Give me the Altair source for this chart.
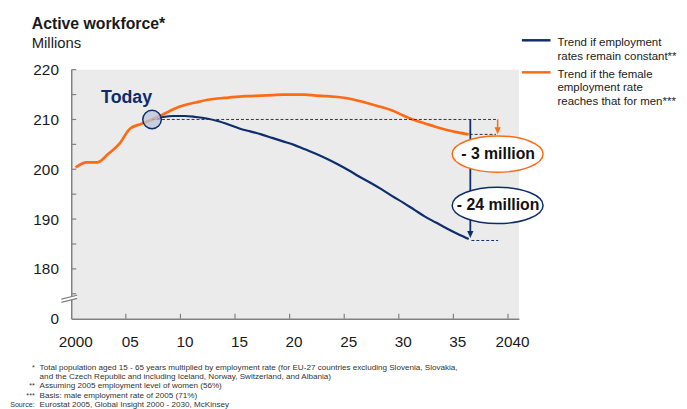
import altair as alt
import pandas as pd

FONT = "Liberation Sans"
NAVY = "#0d2d6b"
ORANGE_C = "#ff6a13"
GRAY = "#808080"
TXT = "#1a1a1a"

# ---------------- data ----------------
YEARS_FEMALE = list(range(2000, 2037))
FEMALE = [200.4, 201.4, 201.4, 203.1, 205.1, 208.2, 209.1, 210.0, 211.0, 212.1,
          212.9, 213.4, 213.9, 214.2, 214.4, 214.6, 214.7, 214.8, 214.9, 215.0,
          215.0, 215.0, 214.8, 214.7, 214.5, 214.2, 213.7, 213.1, 212.5, 211.8,
          210.8, 209.9, 209.2, 208.5, 207.9, 207.4, 207.0]
YEARS_CONST = list(range(2007, 2037))
CONST = [210.0, 210.5, 210.7, 210.7, 210.5, 210.2, 209.7, 209.0, 208.2, 207.6,
         207.0, 206.3, 205.6, 204.9, 204.0, 203.1, 202.1, 201.0, 199.8, 198.5,
         197.3, 196.0, 194.6, 193.3, 191.9, 190.5, 189.3, 188.1, 187.0, 186.0]
SERIES = ["Trend if employment rates remain constant**",
          "Trend if the female employment rate reaches that for men***"]
LEGEND_CONST = ["Trend if employment", "rates remain constant**"]
LEGEND_FEMALE = ["Trend if the female", "employment rate", "reaches that for men***"]
Y_LABELED = [170, 180, 190, 200, 210, 220]
Y_TICKS = [175, 180, 185, 190, 195, 200, 205, 210, 215, 220]
X_TICKS = [2000, 2005, 2010, 2015, 2020, 2025, 2030, 2035, 2040]
TODAY_YEAR = 2007
TODAY_VALUE = 210.0
TODAY_LABEL = "Today"
GAP_LABELS = ["- 3 million", "- 24 million"]
TITLE = "Active workforce*"
UNIT = "Millions"
FOOT_MARKS = ["*", "", "**", "***", "Source:"]
FOOT_TEXT = [
    "Total population aged 15 - 65 years multiplied by employment rate (for EU-27 countries excluding Slovenia, Slovakia,",
    "and the Czech Republic and including Iceland, Norway, Switzerland, and Albania)",
    "Assuming 2005 employment level of women (56%)",
    "Basis: male employment rate of 2005 (71%)",
    "Eurostat 2005, Global Insight 2000 - 2030, McKinsey",
]

# ---------------- layout constants ----------------
W, H = 453, 252
OFF = 0.4           # points sit inside each year
ARROW_X = 2039.05   # position of the orange arrow / bubbles
BREAK_AT = 174.0

df = pd.concat([
    pd.DataFrame({"year": YEARS_CONST, "v": CONST, "series": SERIES[0]}),
    pd.DataFrame({"year": YEARS_FEMALE, "v": FEMALE, "series": SERIES[1]}),
])
df["t"] = df["year"] + OFF

xs = alt.Scale(domain=[2000, 2041], nice=False, zero=False)
ys = alt.Scale(domain=[170, 220], nice=False, zero=False)
one = pd.DataFrame({"k": [0]})

x_axis = alt.Axis(values=X_TICKS, title=None, grid=False, ticks=False, format="d",
                  domainColor=GRAY, domainWidth=1.5,
                  labelExpr="datum.value == 2000 || datum.value == 2040 ? datum.label : substring(datum.label, 2, 4)",
                  labelPadding=16, labelOffset=4, labelFontSize=15.5, labelFont=FONT,
                  labelColor=TXT, labelFlush=False, labelOverlap=False)
y_axis = alt.Axis(values=Y_LABELED, title=None, grid=False, ticks=False,
                  domainColor=GRAY, domainWidth=1.5,
                  labelExpr="datum.value == 170 ? '0' : datum.label",
                  labelPadding=13, labelFontSize=15.5, labelFont=FONT, labelColor=TXT,
                  labelOverlap=False)


def X(field):
    return alt.X(field, type="quantitative", scale=xs, axis=x_axis)


def Y(field):
    return alt.Y(field, type="quantitative", scale=ys, axis=y_axis)


lines = alt.Chart(df).mark_line(interpolate="monotone").encode(
    x=X("t"),
    y=Y("v"),
    color=alt.Color("series:N", scale=alt.Scale(domain=SERIES, range=[NAVY, ORANGE_C]), legend=None),
    strokeWidth=alt.StrokeWidth("series:N", scale=alt.Scale(domain=SERIES, range=[2.2, 2.7]), legend=None),
    order=alt.Order("t:Q"),
)

ytick = alt.Chart(pd.DataFrame({"v": Y_TICKS})).mark_rule(color=GRAY, strokeWidth=1.2).encode(
    y=Y("v"), x=alt.value(0), x2=alt.value(5))
xtick = alt.Chart(pd.DataFrame({"t": X_TICKS[1:]})).mark_rule(color=GRAY, strokeWidth=1.2).encode(
    x=X("t"), y=alt.value(H), y2=alt.value(H - 5))

brk_fill = alt.Chart(pd.DataFrame({"v": [BREAK_AT]})).mark_point(
    shape="M -1 0.05 L 1 -0.45 L 1 -0.05 L -1 0.45 Z", filled=True, fill="white",
    opacity=1, size=256, strokeWidth=0).encode(y=Y("v"), x=alt.value(-2))
brk_line = alt.Chart(pd.DataFrame({"v": [BREAK_AT]})).mark_point(
    shape="M -1 0.05 L 1 -0.45 M -1 0.45 L 1 -0.05", filled=False, stroke=GRAY,
    opacity=1, size=256, strokeWidth=1.2).encode(y=Y("v"), x=alt.value(-2))

# dashed reference lines
base_dash = alt.Chart(pd.DataFrame({"x": [TODAY_YEAR + OFF], "x2": [ARROW_X + 0.05], "v": [TODAY_VALUE]})).mark_rule(
    color="#333333", strokeWidth=1, strokeDash=[3, 2]).encode(x=X("x"), x2="x2", y=Y("v"))
fem_dash = alt.Chart(pd.DataFrame({"x": [YEARS_FEMALE[-1] + OFF + 0.1], "x2": [ARROW_X - 0.15], "v": [FEMALE[-1]]})).mark_rule(
    color="#333333", strokeWidth=1, strokeDash=[3, 2]).encode(x=X("x"), x2="x2", y=Y("v"))
con_dash = alt.Chart(pd.DataFrame({"x": [YEARS_CONST[-1] + OFF + 0.25], "x2": [ARROW_X + 0.05], "v": [CONST[-1] - 0.3]})).mark_rule(
    color=NAVY, strokeWidth=1, strokeDash=[3, 2]).encode(x=X("x"), x2="x2", y=Y("v"))

# arrows
HEAD = "M 0 0 L -0.45 -1 L 0.45 -1 Z"
blue_x = YEARS_CONST[-1] + OFF + 0.15
blue_arrow = alt.Chart(pd.DataFrame({"x": [blue_x], "v": [TODAY_VALUE], "v2": [CONST[-1] + 1.0]})).mark_rule(
    color=NAVY, strokeWidth=1.8).encode(x=X("x"), y=Y("v"), y2="v2")
blue_head = alt.Chart(pd.DataFrame({"x": [blue_x], "v": [CONST[-1] + 0.2]})).mark_point(
    shape=HEAD, filled=True, fill=NAVY, opacity=1, size=196, strokeWidth=0).encode(x=X("x"), y=Y("v"))
or_arrow = alt.Chart(pd.DataFrame({"x": [ARROW_X], "v": [TODAY_VALUE], "v2": [FEMALE[-1] + 1.0]})).mark_rule(
    color=ORANGE_C, strokeWidth=1.5).encode(x=X("x"), y=Y("v"), y2="v2")
or_head = alt.Chart(pd.DataFrame({"x": [ARROW_X], "v": [FEMALE[-1] + 0.05]})).mark_point(
    shape=HEAD, filled=True, fill=ORANGE_C, opacity=1, size=196, strokeWidth=0).encode(x=X("x"), y=Y("v"))

# today marker
today = alt.Chart(pd.DataFrame({"x": [TODAY_YEAR + OFF], "v": [TODAY_VALUE]})).mark_point(
    shape="circle", filled=True, fill="#b9c4dc", fillOpacity=0.75, stroke=NAVY, strokeWidth=1.5,
    opacity=1, size=350).encode(x=X("x"), y=Y("v"))
today_txt = alt.Chart(pd.DataFrame({"x": [2005.07], "v": [213.4]})).mark_text(
    text=TODAY_LABEL, font=FONT, fontSize=18, fontWeight="bold", color=NAVY, align="center",
    baseline="alphabetic").encode(x=X("x"), y=Y("v"))

# bubbles
ELL = ("M -1 0 C -1 -0.2209 -0.5523 -0.4 0 -0.4 C 0.5523 -0.4 1 -0.2209 1 0 "
       "C 1 0.2209 0.5523 0.4 0 0.4 C -0.5523 0.4 -1 0.2209 -1 0 Z")
bub_y = [203.05, 192.75]
bubbles = []
for lab, yy, col in zip(GAP_LABELS, bub_y, [ORANGE_C, NAVY]):
    d = pd.DataFrame({"x": [ARROW_X], "v": [yy]})
    bubbles.append(alt.Chart(d).mark_point(shape=ELL, filled=True, fill="white", stroke=col,
                                           strokeWidth=1.5, opacity=1, size=8464).encode(x=X("x"), y=Y("v")))
    bubbles.append(alt.Chart(d).mark_text(text=lab, font=FONT, fontSize=16, fontWeight="bold",
                                          color="#111111", align="center", baseline="middle",
                                          dx=0.5).encode(x=X("x"), y=Y("v")))

# legend
leg = [
    alt.Chart(one).mark_rule(color=NAVY, strokeWidth=2.5).encode(
        x=alt.value(456), x2=alt.value(485), y=alt.value(-29.7)),
    alt.Chart(one).mark_rule(color=ORANGE_C, strokeWidth=2.5).encode(
        x=alt.value(456), x2=alt.value(485), y=alt.value(2.7)),
    alt.Chart(one).mark_text(text=LEGEND_CONST, font=FONT, fontSize=11.6, color=TXT, align="left",
                             baseline="alphabetic", lineHeight=13.8).encode(
        x=alt.value(492), y=alt.value(-23.7)),
    alt.Chart(one).mark_text(text=LEGEND_FEMALE, font=FONT, fontSize=11.6, color=TXT, align="left",
                             baseline="alphabetic", lineHeight=13.3).encode(
        x=alt.value(492), y=alt.value(8.7)),
]

# title
titles = [
    alt.Chart(one).mark_text(text=TITLE, font=FONT, fontSize=16, fontWeight="bold", color=TXT,
                             align="left", baseline="alphabetic").encode(x=alt.value(-40), y=alt.value(-40.7)),
    alt.Chart(one).mark_text(text=UNIT, font=FONT, fontSize=15, color=TXT,
                             align="left", baseline="alphabetic").encode(x=alt.value(-40), y=alt.value(-22)),
]

# footnotes
FOOT_Y = [304, 313, 322.5, 331.8, 341]
feet = []
for mk, tx, yy in zip(FOOT_MARKS, FOOT_TEXT, FOOT_Y):
    if mk:
        feet.append(alt.Chart(one).mark_text(text=mk, font=FONT, fontSize=7.2, color="#333333",
                                             align="right", baseline="alphabetic").encode(
            x=alt.value(-37), y=alt.value(yy)))
    feet.append(alt.Chart(one).mark_text(text=tx, font=FONT, fontSize=8.2, color="#333333",
                                         align="left", baseline="alphabetic").encode(
        x=alt.value(-32), y=alt.value(yy)))

chart = alt.layer(
    lines, ytick, xtick, brk_fill, brk_line, base_dash, fem_dash, con_dash,
    blue_arrow, blue_head, or_arrow, or_head, today, today_txt,
    *bubbles, *leg, *titles, *feet,
).properties(
    width=W, height=H,
    autosize=alt.AutoSizeParams(type="none"),
    padding={"left": 64, "top": 60, "right": 162, "bottom": 89},
    background="white",
).configure_view(fill="#ebebeb", strokeWidth=0)

chart.save("out.html", embed_options={"renderer": "svg", "actions": False})
